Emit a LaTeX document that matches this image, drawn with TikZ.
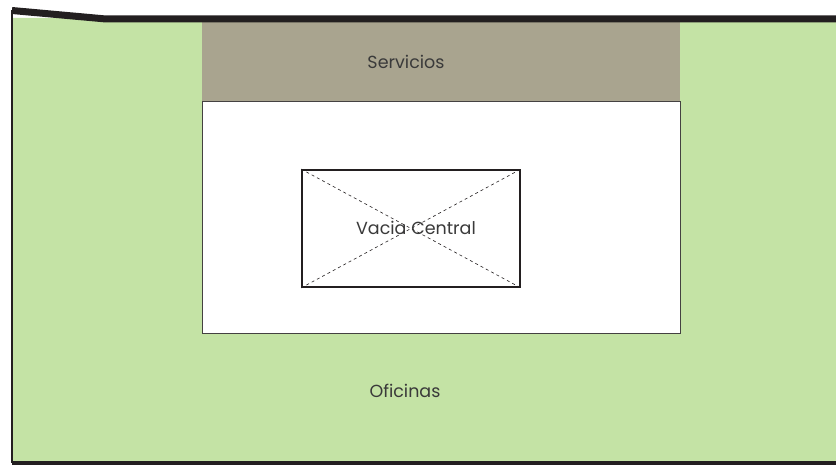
\documentclass[tikz,border=0pt]{standalone}
\usepackage{fontspec}
\setmainfont{Poppins}
\usepackage{xcolor}
\usetikzlibrary{positioning}
\definecolor{oficinagreen}{HTML}{C4E3A5}
\definecolor{serviciotan}{HTML}{A9A48F}
\definecolor{wallblack}{HTML}{231F20}
\definecolor{labelgray}{HTML}{3A3A3A}

\tikzset{
  zonelabel/.style={text=labelgray,font=\fontsize{17.5}{20}\selectfont},
  servbox/.style={fill=serviciotan,inner sep=0pt,anchor=north west,minimum width=478pt,minimum height=79pt},
  patiobox/.style={draw=wallblack!85,line width=1.3pt,fill=white,inner sep=0pt,anchor=north west,minimum width=478pt,minimum height=232pt},
  vaciobox/.style={draw=wallblack,line width=1.8pt,inner sep=0pt,minimum width=218pt,minimum height=117pt}
}

\begin{document}
\begin{tikzpicture}[x=1pt,y=-1pt]
    \useasboundingbox (0,0) rectangle (836,465);
    % planta
    \fill[oficinagreen] (13,18) -- (106,18) -- (836,18) -- (836,463) -- (13,463) -- cycle;
    \node[servbox] (servicios) at (202,22) {};
    \node[patiobox] (patio) at (202,101) {};
    \node[vaciobox] (vacio) at (411,228.5) {};
    \draw[wallblack,dashed,line width=0.6pt] (vacio.north west) -- (vacio.south east);
    \draw[wallblack,dashed,line width=0.6pt] (vacio.south west) -- (vacio.north east);
    % muros
    \coordinate (topleft) at (12,10.5);
    \coordinate (topkink) at (106,19);
    \coordinate (topright) at (836,19);
    \coordinate (botleft) at (12,463);
    \coordinate (botright) at (836,463);
    \draw[wallblack,line width=7pt] (topleft) -- (topkink) -- (topright);
    \draw[wallblack,line width=2pt] (topleft) -- (botleft);
    \draw[wallblack,line width=4pt] (botleft) -- (botright);
    % textos
    \node[zonelabel] (lblserv) at (406,62) {Servicios};
    \node[zonelabel] (lblvacio) at (416,228) {Vacia Central};
    \node[zonelabel] (lblofi) at (405,391) {Oficinas};
\end{tikzpicture}
\end{document}
